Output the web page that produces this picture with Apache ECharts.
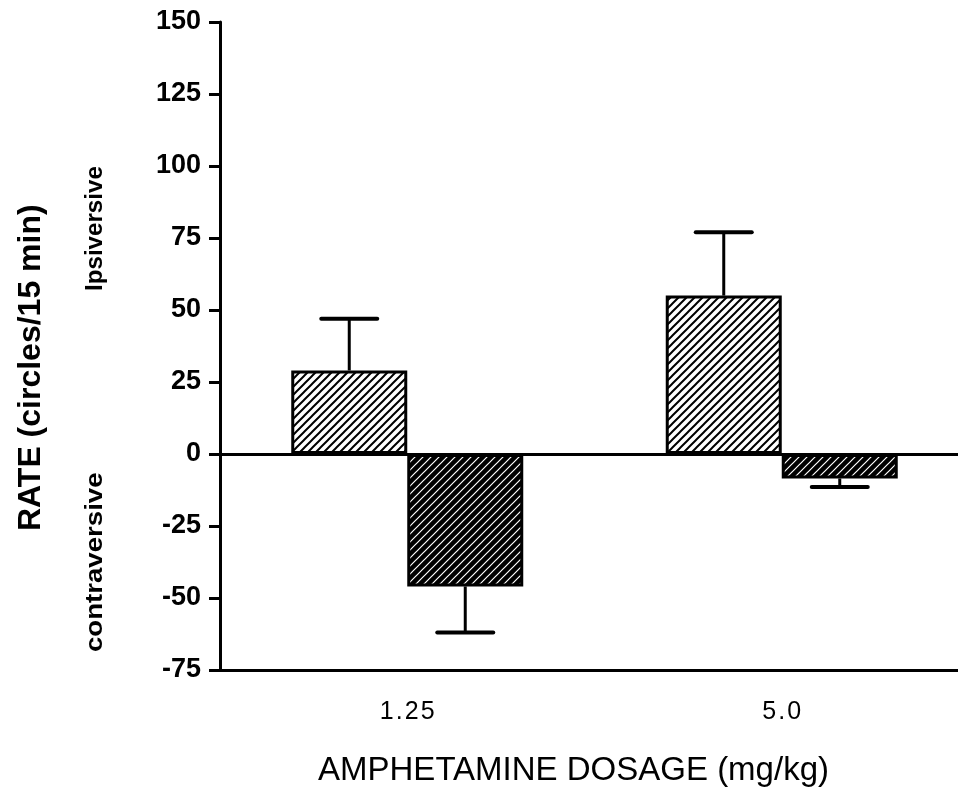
<!DOCTYPE html>
<html>
<head>
<meta charset="utf-8">
<title>Rotation rate by amphetamine dosage</title>
<script src="https://cdn.jsdelivr.net/npm/echarts@6/dist/echarts.min.js"></script>
<style>
  html, body { margin: 0; padding: 0; background: #fff; }
  #chart { width: 958px; height: 806px; }
</style>
</head>
<body>
<div id="chart"></div>
<script>
// Dosage groups (mg/kg)
const categories = ['1.25', '5.0'];
// Mean rotation rate, circles per 15 min (positive = ipsiversive, negative = contraversive)
const ipsiversive = [29, 55];
const contraversive = [-46, -8.5];
// End points of the error bars (mean ± SEM, drawn away from zero)
const ipsiversiveErr = [47, 77];
const contraversiveErr = [-62, -11.5];
// Value axis
const yMin = -75, yMax = 150, yStep = 25;

const BAR_W = 116;
const FONT = '"Liberation Sans", Arial, Helvetica, sans-serif';

// Diagonal hatch tiles
function hatch(bg, fg, lw, size) {
  const c = document.createElement('canvas');
  c.width = size; c.height = size;
  const g = c.getContext('2d');
  g.fillStyle = bg;
  g.fillRect(0, 0, size, size);
  g.strokeStyle = fg;
  g.lineWidth = lw;
  g.beginPath();
  g.moveTo(0, size); g.lineTo(size, 0);
  g.moveTo(-1, 1); g.lineTo(1, -1);
  g.moveTo(size - 1, size + 1); g.lineTo(size + 1, size - 1);
  g.stroke();
  return c;
}
const lightHatch = { image: hatch('#ffffff', '#000000', 2, 8), repeat: 'repeat' };
const darkHatch = { image: hatch('#000000', '#ffffff', 1.2, 8), repeat: 'repeat' };

// One-sided error bar with a cap, centred on its bar
function errorSeries(values, ends, side) {
  return {
    type: 'custom',
    silent: true,
    z: 5,
    data: categories.map((c, i) => [i, values[i], ends[i]]),
    renderItem: function (params, api) {
      const base = api.coord([api.value(0), api.value(1)]);
      const tip = api.coord([api.value(0), api.value(2)]);
      const x = base[0] + side * BAR_W / 2;
      const half = 28;
      return {
        type: 'group',
        children: [
          { type: 'line', shape: { x1: x, y1: base[1], x2: x, y2: tip[1] },
            style: { stroke: '#000', lineWidth: 3 } },
          { type: 'line', shape: { x1: x - half, y1: tip[1], x2: x + half, y2: tip[1] },
            style: { stroke: '#000', lineWidth: 4, lineCap: 'round' } }
        ]
      };
    }
  };
}

// Loosely spaced dosage labels
function spaced(s) { return s.split('').join('\u200A'); }

const chart = echarts.init(document.getElementById('chart'), null, { renderer: 'canvas' });

chart.setOption({
  backgroundColor: '#ffffff',
  animation: false,
  grid: { left: 220, width: 749, top: 22, bottom: 136, containLabel: false, outerBoundsMode: 'none' },
  xAxis: {
    type: 'category',
    data: categories,
    name: 'AMPHETAMINE DOSAGE (mg/kg)',
    nameLocation: 'middle',
    nameGap: 84,
    nameTextStyle: { fontFamily: FONT, fontSize: 33, color: '#000', padding: [0, 42, 0, 0] },
    axisLine: { onZero: false, lineStyle: { color: '#000', width: 3 } },
    axisTick: { alignWithLabel: true, length: 9, lineStyle: { color: '#000', width: 3 } },
    axisLabel: { fontFamily: FONT, fontSize: 25, color: '#000', margin: 30, formatter: spaced },
    splitLine: { show: false }
  },
  yAxis: {
    type: 'value',
    min: yMin,
    max: yMax,
    interval: yStep,
    axisLine: { show: true, lineStyle: { color: '#000', width: 3 } },
    axisTick: { show: true, length: 11, lineStyle: { color: '#000', width: 3 } },
    axisLabel: { fontFamily: FONT, fontSize: 27, fontWeight: 'bold', color: '#000', margin: 19 },
    splitLine: { show: false }
  },
  graphic: [
    { type: 'text', x: 15, y: 531, rotation: Math.PI / 2,
      style: { text: 'RATE (circles/15 min)', font: 'bold 32px ' + FONT, fill: '#000',
               align: 'left', verticalAlign: 'top' } },
    { type: 'text', x: 84, y: 291, rotation: Math.PI / 2, scaleX: 1.05,
      style: { text: 'Ipsiversive', font: 'bold 23px ' + FONT, fill: '#000',
               align: 'left', verticalAlign: 'top' } },
    { type: 'text', x: 84, y: 652, rotation: Math.PI / 2, scaleX: 1.2,
      style: { text: 'contraversive', font: 'bold 23px ' + FONT, fill: '#000',
               align: 'left', verticalAlign: 'top' } }
  ],
  series: [
    {
      name: 'Ipsiversive',
      type: 'bar',
      data: ipsiversive,
      barWidth: BAR_W,
      barGap: '0%',
      itemStyle: { color: lightHatch, borderColor: '#000', borderWidth: 3 },
      markLine: {
        silent: true,
        symbol: 'none',
        label: { show: false },
        lineStyle: { color: '#000', width: 3, type: 'solid' },
        data: [{ yAxis: 0 }]
      }
    },
    {
      name: 'Contraversive',
      type: 'bar',
      data: contraversive,
      barWidth: BAR_W,
      barGap: '0%',
      itemStyle: { color: darkHatch, borderColor: '#000', borderWidth: 3 }
    },
    errorSeries(ipsiversive, ipsiversiveErr, -1),
    errorSeries(contraversive, contraversiveErr, 1)
  ]
});
</script>
</body>
</html>
